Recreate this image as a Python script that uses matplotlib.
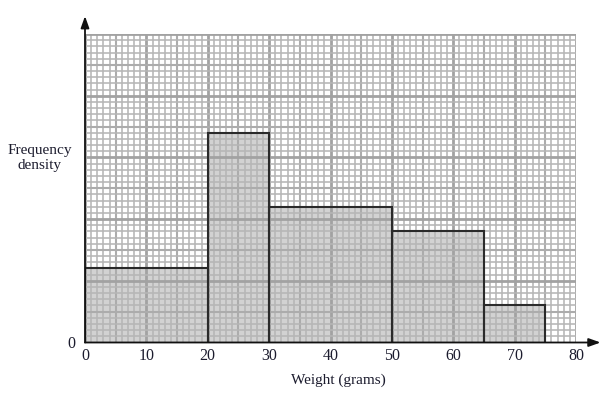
import matplotlib
matplotlib.use("Agg")
from matplotlib import pyplot as plt

plt.rcParams['font.family'] = ['Liberation Serif', 'DejaVu Serif']

# class boundaries (grams) and bar heights (in small grid squares)
edges = [0, 20, 30, 50, 65, 75]
heights = [12, 34, 22, 18, 6]
x_ticks = [0, 10, 20, 30, 40, 50, 60, 70, 80]

text_col = '#1c1c2e'

fig = plt.figure(figsize=(6.13, 3.93), dpi=100)
ax = fig.add_axes([85 / 613, 1 - 342.5 / 393, 491 / 613, 308.5 / 393])
ax.set_xlim(0, 80)
ax.set_ylim(0, 50)
for s in ax.spines.values():
    s.set_visible(False)

# bars (fill first, grid goes over them)
for i in range(len(heights)):
    ax.bar(edges[i], heights[i], width=edges[i + 1] - edges[i], align='edge',
           color='#d2d2d2', edgecolor='none', zorder=1)


def line_style(v):
    if v % 10 == 0:
        return 2.0, '#a2a2a2'
    if v % 5 == 0:
        return 1.5, '#acacac'
    return 1.15, '#b6b6b6'


# graph paper
for v in range(0, 81):
    lw, c = line_style(v)
    ax.plot([v, v], [0, 50], color=c, lw=lw, zorder=2, solid_capstyle='butt')
for v in range(0, 51):
    lw, c = line_style(v)
    ax.plot([0, 80], [v, v], color=c, lw=lw, zorder=2, solid_capstyle='butt')

# bar outlines
for i in range(len(heights)):
    ax.bar(edges[i], heights[i], width=edges[i + 1] - edges[i], align='edge',
           facecolor='none', edgecolor='#2a2a2a', linewidth=1.5, zorder=3)

# axes with arrows
ax.annotate('', xy=(84, 0), xytext=(0, 0), annotation_clip=False, zorder=4,
            arrowprops=dict(arrowstyle='-|>,head_length=0.7,head_width=0.25',
                            color='#111111', lw=1.3, shrinkA=0, shrinkB=0))
ax.annotate('', xy=(0, 52.9), xytext=(0, 0), annotation_clip=False, zorder=4,
            arrowprops=dict(arrowstyle='-|>,head_length=0.7,head_width=0.25',
                            color='#111111', lw=1.3, shrinkA=0, shrinkB=0))

ax.set_xticks(x_ticks)
ax.set_xticklabels([str(t) for t in x_ticks], fontsize=11.5, color=text_col)
ax.set_yticks([0])
ax.set_yticklabels(['0'], fontsize=11.5, color=text_col)
ax.tick_params(length=0, pad=4)
ax.tick_params(axis='y', pad=7)

fig.text(338 / 613, 1 - 380 / 393, 'Weight (grams)', ha='center', va='center',
         fontsize=11, color=text_col)
fig.text(40 / 613, 1 - 158 / 393, 'Frequency\ndensity', ha='center', va='center',
         fontsize=11, color=text_col, linespacing=1.2)

fig.savefig('out.png', dpi=100)
